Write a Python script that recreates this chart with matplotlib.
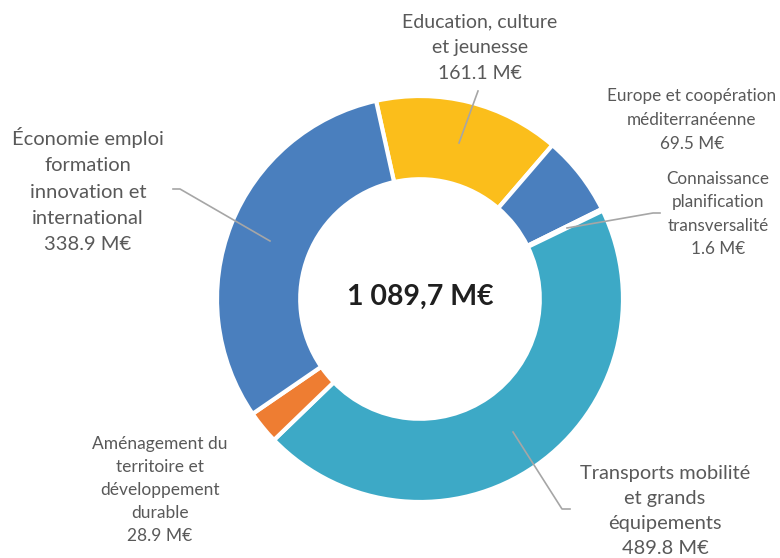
import numpy as np
import matplotlib
matplotlib.use('Agg')
import matplotlib.pyplot as plt

W, H = 780, 558

# data
categories = ['Education, culture\net jeunesse',
              'Europe et coopération\nméditerranéenne',
              'Connaissance\nplanification\ntransversalité',
              'Transports mobilité\net grands\néquipements',
              'Aménagement du\nterritoire et\ndéveloppement\ndurable',
              'Économie emploi\nformation\ninnovation et\ninternational']
values = [161.1, 69.5, 1.6, 489.8, 28.9, 338.9]
colors = ['#FBBE1B', '#4A7FBE', '#3DA9C6', '#3DA9C6', '#EE7D32', '#4A7FBE']
total_label = '1 089,7 M€'

# label layout (pixel coords, y from top)
label_pos = [(480, 48), (692, 120), (718, 214), (665, 511), (160, 490), (88, 190)]
label_size = [14, 12.3, 12.3, 14.4, 12.5, 14.5]
label_spacing = [1.62, 1.6, 1.55, 1.55, 1.55, 1.65]
leaders = {
    0: [(478, 91), (459, 143)],
    2: [(660, 213), (653, 213), (567, 228)],
    3: [(513, 432), (562, 509), (570, 509)],
    5: [(173, 189), (180, 189), (270, 241)],
}

plt.rcParams['font.family'] = ['Lato', 'DejaVu Sans']

fig = plt.figure(figsize=(W / 100, H / 100), dpi=100)
ax = fig.add_axes([0, 0, 1, 1])

cx, cy, r = 420, H - 299, 203
ax.pie(values, colors=colors, startangle=102.5, counterclock=False,
       center=(cx, cy), radius=r, frame=True,
       wedgeprops=dict(width=r * 0.41, edgecolor='white', linewidth=3))
ax.set_xlim(0, W)
ax.set_ylim(0, H)
ax.set_aspect('equal')
ax.axis('off')

for i, (name, v) in enumerate(zip(categories, values)):
    x, y = label_pos[i]
    ax.text(x, H - y, f'{name}\n{v:.1f} M€', ha='center', va='center',
            fontsize=label_size[i], color='#595959',
            linespacing=label_spacing[i])

for pts in leaders.values():
    xs = [p[0] for p in pts]
    ys = [H - p[1] for p in pts]
    ax.plot(xs, ys, color='#A6A6A6', lw=1.2)

ax.text(cx, cy + 2, total_label, ha='center', va='center',
        fontsize=20.5, fontweight='bold', color='#1F1F1F')

fig.savefig('out.png', dpi=100)
